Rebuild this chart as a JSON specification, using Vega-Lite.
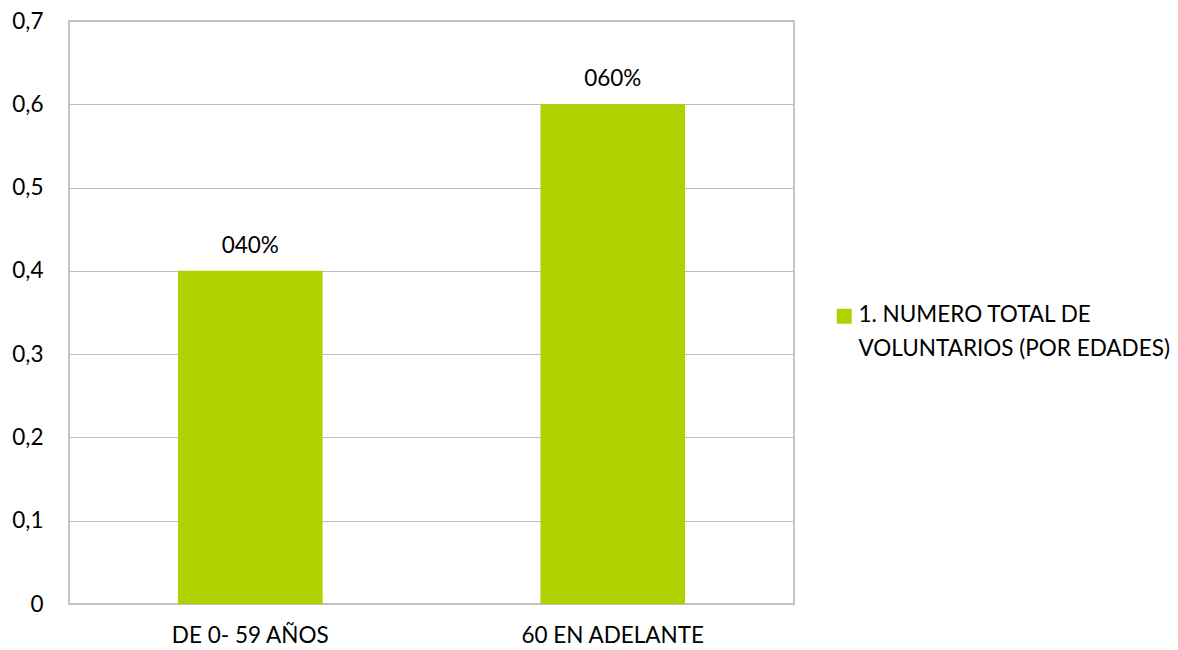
{
  "$schema": "https://vega.github.io/schema/vega-lite/v6.json",
  "autosize": {"type": "none"},
  "padding": {"left": 69, "top": 21, "right": 384, "bottom": 46},
  "width": 725,
  "height": 583,
  "background": "white",
  "config": {
    "font": "Lato",
    "view": {"stroke": "#b4b4b4", "strokeWidth": 1.5},
    "axis": {"labelFont": "Lato", "labelFontSize": 22.5, "labelColor": "#000000", "domain": false, "ticks": false, "title": null, "labelLimit": 0}
  },
  "data": {
    "values": [
      {"category": "DE 0- 59 AÑOS", "value": 0.4, "label": "040%", "series": "1. NUMERO TOTAL DE VOLUNTARIOS (POR EDADES)"},
      {"category": "60 EN ADELANTE", "value": 0.6, "label": "060%", "series": "1. NUMERO TOTAL DE VOLUNTARIOS (POR EDADES)"}
    ]
  },
  "encoding": {
    "x": {
      "field": "category", "type": "nominal", "sort": null,
      "scale": {"paddingInner": 0.601, "paddingOuter": 0.3005},
      "axis": {"labelAngle": 0, "labelPadding": 20, "grid": false, "labelLimit": 0}
    },
    "y": {
      "field": "value", "type": "quantitative",
      "scale": {"domain": [0, 0.7], "nice": false},
      "axis": {
        "values": [0, 0.1, 0.2, 0.3, 0.4, 0.5, 0.6, 0.7],
        "labelExpr": "datum.value == 0 ? '0' : replace(format(datum.value, '.1f'), '.', ',')",
        "labelPadding": 26,
        "grid": true, "gridColor": "#bdbdbd", "gridWidth": 1.2
      }
    }
  },
  "layer": [
    {
      "mark": {"type": "bar"},
      "encoding": {
        "color": {
          "field": "series", "type": "nominal",
          "scale": {"range": ["#b0d100"]},
          "legend": {
            "title": null,
            "orient": "none",
            "legendX": 764,
            "legendY": 284,
            "symbolType": "square",
            "symbolSize": 225,
            "symbolStrokeWidth": 0,
            "labelFont": "Lato",
            "labelFontSize": 22.5,
            "labelColor": "#000000",
            "labelLimit": 0,
            "labelBaseline": "top",
            "labelOffset": 3,
            "labelExpr": "['1. NUMERO TOTAL DE', 'VOLUNTARIOS (POR EDADES)']",
            "encode": {
              "labels": {"update": {"lineHeight": {"value": 34}, "dy": {"value": -12}}}
            }
          }
        }
      }
    },
    {
      "mark": {"type": "text", "baseline": "bottom", "dy": -13, "fontSize": 22.5, "font": "Lato", "color": "#000000"},
      "encoding": {
        "text": {"field": "label"}
      }
    }
  ]
}
